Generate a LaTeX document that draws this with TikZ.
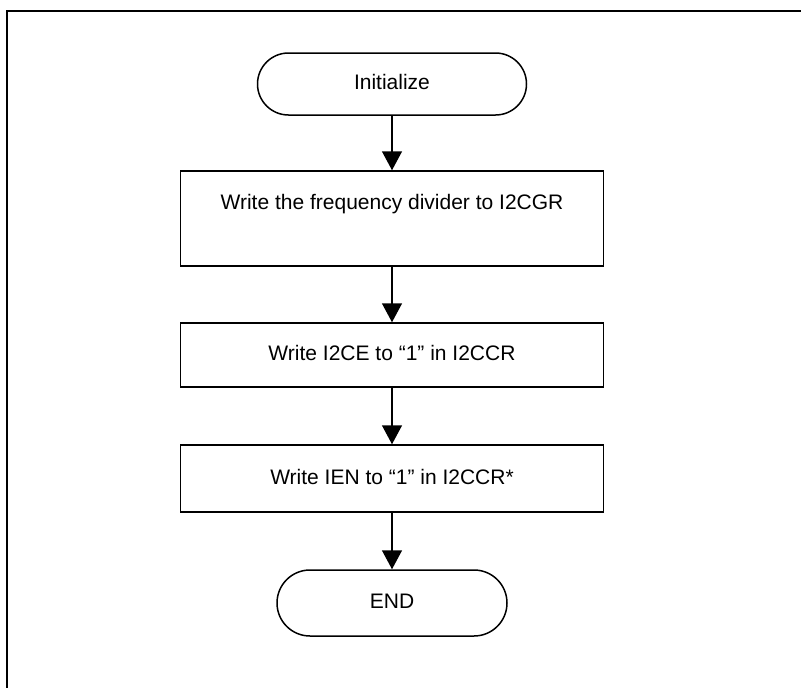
\documentclass[tikz,border=0pt]{standalone}
\usepackage{fontspec}
\setmainfont{Liberation Sans}
\usetikzlibrary{arrows.meta}

\tikzset{
  term/.style={draw, line width=1.5pt, rounded corners=#1, minimum height=2*#1,
    text height=15pt, text depth=4pt},
  stepbox/.style={draw, line width=1.5pt, minimum width=423pt,
    text height=15pt, text depth=4pt},
  flow/.style={line width=1.5pt, -{Triangle[width=20pt, length=19pt]}}
}

\begin{document}
\begin{tikzpicture}[x=1pt, y=-1pt, font=\fontsize{21pt}{25pt}\selectfont]
  \useasboundingbox (0,0) rectangle (801,688);

  % 外枠（左辺と上辺のみ）
  \draw[line width=2pt] (7,688) -- (7,11) -- (801,11);

  % 端子（開始と終了）
  \node[term=31pt, minimum width=269pt] (start) at (392,84) {Initialize};
  \node[term=33pt, minimum width=230pt] (stop) at (392,603) {END};

  % 処理ボックス
  \node[stepbox, minimum height=95pt, text depth=34pt] (step1) at (392,218.5)
    {Write the frequency divider to I2CGR};
  \node[stepbox, minimum height=64pt] (step2) at (392,355)
    {Write I2CE to “1” in I2CCR};
  \node[stepbox, minimum height=67pt] (step3) at (392,478.5)
    {Write IEN to “1” in I2CCR*};

  % 矢印
  \foreach \a/\b in {start/step1, step1/step2, step2/step3, step3/stop} {
    \draw[flow] (\a) -- (\b);
  }

\end{tikzpicture}
\end{document}
